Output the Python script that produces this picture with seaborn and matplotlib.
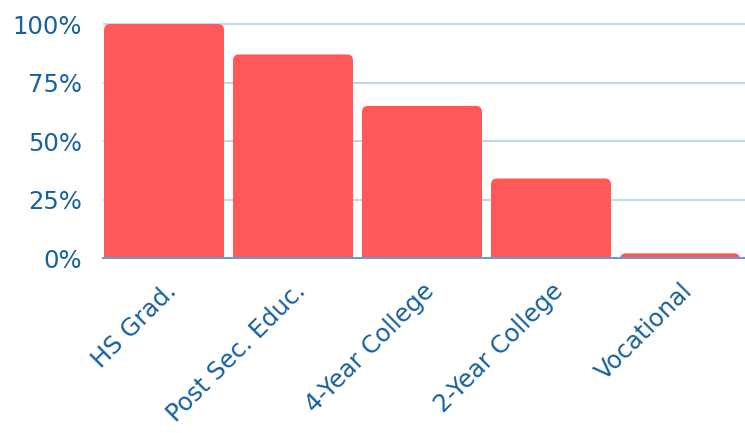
import numpy as np
import pandas as pd
import matplotlib
matplotlib.use("Agg")
import matplotlib.pyplot as plt
import seaborn as sns
from matplotlib.patches import FancyBboxPatch
from matplotlib.ticker import PercentFormatter
import matplotlib.transforms as mtransforms

# data
categories = ["HS Grad.", "Post Sec. Educ.", "4-Year College", "2-Year College", "Vocational"]
values = [100, 87, 65, 34, 2]
yticks = [0, 25, 50, 75, 100]

bar_color = "#ff5858"
text_color = "#17609e"
grid_color = "#c3d7e6"
base_color = "#6a9cc6"

df = pd.DataFrame({"Category": categories, "Value": values})

sns.set_theme(style="white")
plt.rcParams["font.family"] = ["DejaVu Sans"]

W, H = 745, 433
fig = plt.figure(figsize=(W / 100, H / 100), dpi=100)
left, right, bottom_px, top_px = 103, 745, 258, 21.7
ax = fig.add_axes([left / W, (H - bottom_px) / H, (right - left) / W, (bottom_px - top_px) / H])

sns.barplot(data=df, x="Category", y="Value", color=bar_color, width=0.93,
            saturation=1, ax=ax, zorder=2)

ax.set_xlim(-0.473, 4.504)
ax.set_ylim(0, 101)

# swap plain bars for bars with rounded top corners
x_per_px = (4.504 + 0.473) / (right - left)
y_per_px = 101 / (bottom_px - top_px)
r_px = 6
for p in list(ax.patches):
    x0, w, h = p.get_x(), p.get_width(), p.get_height()
    p.remove()
    ext = r_px * 2 * y_per_px
    fb = FancyBboxPatch((x0, -ext), w, h + ext,
                        boxstyle=f"round,pad=0,rounding_size={r_px * x_per_px}",
                        mutation_aspect=y_per_px / x_per_px,
                        facecolor=bar_color, edgecolor="none", zorder=2)
    ax.add_patch(fb)

ax.set_yticks(yticks)
ax.yaxis.set_major_formatter(PercentFormatter(100, decimals=0))
ax.grid(axis="y", color=grid_color, linewidth=1.5, zorder=0)
ax.grid(axis="x", visible=False)
for s in ["top", "right", "left"]:
    ax.spines[s].set_visible(False)
ax.spines["bottom"].set_color(base_color)
ax.spines["bottom"].set_linewidth(1.5)
ax.spines["bottom"].set_zorder(3)

ax.set_xlabel("")
ax.set_ylabel("")
ax.tick_params(axis="both", length=0, labelsize=17.5, colors=text_color)
ax.tick_params(axis="y", pad=15)
ax.tick_params(axis="x", pad=15)

for lbl in ax.get_xticklabels():
    lbl.set_rotation(45)
    lbl.set_ha("right")
    lbl.set_rotation_mode("anchor")

fig.savefig("out.png", dpi=100)
